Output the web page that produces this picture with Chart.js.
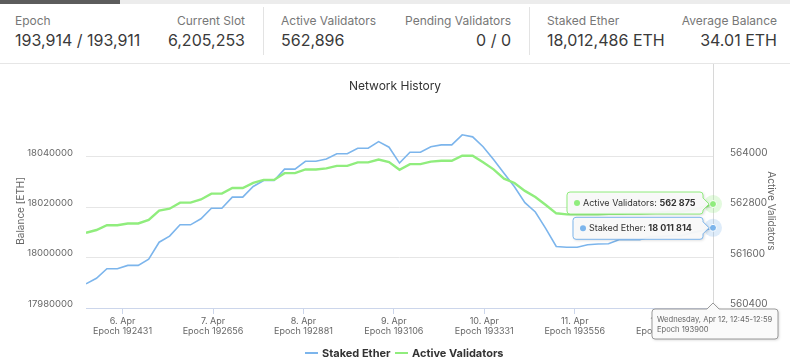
<!DOCTYPE html>
<html><head><meta charset="utf-8">
<script src="https://cdn.jsdelivr.net/npm/chart.js@4"></script>
<style>
html,body{margin:0;padding:0;width:790px;height:358px;overflow:hidden;background:#fff;font-family:Inter,"Noto Sans",sans-serif;}
#topbar{position:absolute;left:0;top:0;width:790px;height:4px;background:#ececec;}
#topbar .dark{position:absolute;left:0;top:0;width:120px;height:4px;background:#5c5c5c;}
.stat{position:absolute;top:13px;white-space:nowrap;}
.stat .lab{font-size:12px;color:#777;line-height:16px;}
.stat .val{font-size:16px;color:#3a3a3a;line-height:22px;}
.r{text-align:right}
.sep{position:absolute;top:7px;width:1px;height:48px;background:#e3e3e3}
#hline{position:absolute;left:0;top:63px;width:790px;height:1px;background:#e6e6e6}
#wrap{position:absolute;left:0;top:64px;width:790px;height:294px;}
#legend{position:absolute;top:345px;left:0;width:790px;font-size:11px;font-weight:700;color:#333;white-space:nowrap}
#legend span.it{position:absolute;top:0;line-height:16px}
#legend i{display:inline-block;width:13px;height:2px;vertical-align:middle;margin-right:4px;position:relative;top:-1px}
</style></head><body>
<div id="topbar"><div class="dark"></div></div>
<div class="stat" style="left:15px"><div class="lab">Epoch</div><div class="val">193,914 / 193,911</div></div>
<div class="stat r" style="right:545px"><div class="lab">Current Slot</div><div class="val">6,205,253</div></div>
<div class="sep" style="left:263px"></div>
<div class="stat" style="left:281px"><div class="lab">Active Validators</div><div class="val">562,896</div></div>
<div class="stat r" style="right:279px"><div class="lab">Pending Validators</div><div class="val">0 / 0</div></div>
<div class="sep" style="left:529px"></div>
<div class="stat" style="left:547px"><div class="lab">Staked Ether</div><div class="val">18,012,486 ETH</div></div>
<div class="stat r" style="right:13px"><div class="lab">Average Balance</div><div class="val">34.01 ETH</div></div>
<div id="hline"></div>
<div id="wrap"><canvas id="c"></canvas></div>
<div id="legend">
  <span class="it" style="left:305px"><i style="background:#7cb5ec"></i>Staked Ether</span>
  <span class="it" style="left:395px"><i style="background:#90ed7d"></i>Active Validators</span>
</div>
<script>
const epochs = [192340,192366,192392,192418,192444,192470,192496,192522,192548,192574,
192600,192626,192652,192678,192704,192730,192756,192782,192808,192834,
192860,192886,192912,192938,192964,192990,193016,193042,193068,193094,
193120,193146,193172,193198,193224,193250,193276,193302,193328,193354,
193380,193406,193432,193458,193484,193510,193536,193562,193588,193614,
193640,193666,193692,193718,193744,193770,193796,193822,193848,193874,193900];
const stakedEther = [17989600,17991800,17995600,17995600,17996900,17996900,17999400,18006100,18008500,18013000,
18013000,18015400,18019600,18019600,18024000,18024000,18028200,18030600,18030600,18035100,
18035100,18038200,18038200,18039100,18041200,18041200,18043400,18043400,18046000,18043800,
18037500,18041800,18041800,18044000,18044700,18044700,18048700,18047900,18044000,18038900,
18033500,18028100,18021800,18018100,18011500,18004400,18004100,18004100,18005100,18005400,
18005500,18007100,18007100,18007100,18008300,18008300,18008700,18008700,18009900,18010700,18011814];
const activeValidators = [562190,562256,562371,562371,562412,562412,562496,562719,562764,562908,
562908,562984,563123,563123,563257,563257,563380,563449,563449,563610,
563610,563698,563698,563725,563784,563784,563866,563866,563933,563875,
563691,563825,563825,563885,563904,563904,564024,564024,563868,563701,
563480,563377,563188,563042,562853,562654,562628,562628,562628,562628,
562640,562640,562647,562651,562663,562675,562687,562699,562735,562795,562875];
const tickEpochs = [192431,192656,192881,193106,193331,193556,193781];
const dayLabels = ['6. Apr','7. Apr','8. Apr','9. Apr','10. Apr','11. Apr','12. Apr'];
const balanceTicks = [17980000,18000000,18020000,18040000];
const validatorTicks = [560400,561600,562800,564000];
const tooltipHeader = 'Wednesday, Apr 12, 12:45-12:59';

const FONT = 'Inter, "Noto Sans", sans-serif';
const fmtSpace = v => String(v).replace(/\B(?=(\d{3})+(?!\d))/g, ' ');

function calloutRight(ctx, x, y, w, h, tipX, tipY, r) {
  const cy = tipY;
  ctx.beginPath();
  ctx.moveTo(x + r, y);
  ctx.lineTo(x + w - r, y);
  ctx.quadraticCurveTo(x + w, y, x + w, y + r);
  ctx.lineTo(x + w, cy - 6);
  ctx.lineTo(tipX, tipY);
  ctx.lineTo(x + w, cy + 6);
  ctx.lineTo(x + w, y + h - r);
  ctx.quadraticCurveTo(x + w, y + h, x + w - r, y + h);
  ctx.lineTo(x + r, y + h);
  ctx.quadraticCurveTo(x, y + h, x, y + h - r);
  ctx.lineTo(x, y + r);
  ctx.quadraticCurveTo(x, y, x + r, y);
  ctx.closePath();
}
function calloutUp(ctx, x, y, w, h, tipX, tipY, r) {
  ctx.beginPath();
  ctx.moveTo(x + r, y);
  ctx.lineTo(tipX - 6, y);
  ctx.lineTo(tipX, tipY);
  ctx.lineTo(tipX + 6, y);
  ctx.lineTo(x + w - r, y);
  ctx.quadraticCurveTo(x + w, y, x + w, y + r);
  ctx.lineTo(x + w, y + h - r);
  ctx.quadraticCurveTo(x + w, y + h, x + w - r, y + h);
  ctx.lineTo(x + r, y + h);
  ctx.quadraticCurveTo(x, y + h, x, y + h - r);
  ctx.lineTo(x, y + r);
  ctx.quadraticCurveTo(x, y, x + r, y);
  ctx.closePath();
}

const hoverPlugin = {
  id: 'hover',
  beforeDatasetsDraw(chart) {
    const ctx = chart.ctx, ca = chart.chartArea;
    const last = epochs.length - 1;
    const px = chart.scales.x.getPixelForValue(epochs[last]);
    ctx.save();
    ctx.strokeStyle = '#d8d8d8';
    ctx.lineWidth = 1;
    ctx.beginPath();
    ctx.moveTo(Math.round(px) + 0.5, 0);
    ctx.lineTo(Math.round(px) + 0.5, ca.bottom);
    ctx.stroke();
    ctx.restore();
  },
  afterDraw(chart) {
    const ctx = chart.ctx, ca = chart.chartArea;
    const last = epochs.length - 1;
    const px = chart.scales.x.getPixelForValue(epochs[last]);
    const pyB = chart.scales.y.getPixelForValue(stakedEther[last]);
    const pyG = chart.scales.y1.getPixelForValue(activeValidators[last]);
    ctx.save();
    [[pyB, 'rgba(124,181,236,0.25)', '#7cb5ec'], [pyG, 'rgba(144,237,125,0.25)', '#90ed7d']].forEach(([py, halo, col]) => {
      ctx.fillStyle = halo;
      ctx.beginPath(); ctx.arc(px, py, 9, 0, Math.PI * 2); ctx.fill();
      ctx.fillStyle = col; ctx.strokeStyle = '#fff'; ctx.lineWidth = 1;
      ctx.beginPath(); ctx.arc(px, py, 3.5, 0, Math.PI * 2); ctx.fill(); ctx.stroke();
    });
    const boxes = [
      {py: pyG, col: '#90ed7d', label: 'Active Validators: ', val: fmtSpace(activeValidators[last]), left: px - 146, top: pyG - 12},
      {py: pyB, col: '#7cb5ec', label: 'Staked Ether: ', val: fmtSpace(stakedEther[last]), left: px - 140, top: pyB - 10.5}
    ];
    boxes.forEach(b => {
      const w = px - 10 - b.left, h = 22;
      ctx.save();
      ctx.shadowColor = 'rgba(0,0,0,0.18)'; ctx.shadowBlur = 3; ctx.shadowOffsetX = 1; ctx.shadowOffsetY = 1;
      calloutRight(ctx, b.left, b.top, w, h, px - 4, b.py, 3);
      ctx.fillStyle = 'rgba(250,250,250,0.95)';
      ctx.fill();
      ctx.restore();
      calloutRight(ctx, b.left, b.top, w, h, px - 4, b.py, 3);
      ctx.strokeStyle = b.col; ctx.lineWidth = 1; ctx.stroke();
      const cy = b.top + h / 2;
      ctx.fillStyle = b.col;
      ctx.beginPath(); ctx.arc(b.left + 10, cy, 3, 0, Math.PI * 2); ctx.fill();
      ctx.textBaseline = 'middle'; ctx.textAlign = 'left';
      ctx.font = '9px ' + FONT; ctx.fillStyle = '#333';
      ctx.fillText(b.label, b.left + 16, cy);
      const lw = ctx.measureText(b.label).width;
      ctx.font = 'bold 9px ' + FONT;
      ctx.fillText(b.val, b.left + 16 + lw, cy);
    });
    const hx = px - 61, hy = ca.bottom + 1, hw = 126, hh = 30;
    ctx.save();
    ctx.shadowColor = 'rgba(0,0,0,0.18)'; ctx.shadowBlur = 3; ctx.shadowOffsetX = 1; ctx.shadowOffsetY = 1;
    calloutUp(ctx, hx, hy, hw, hh, px, ca.bottom - 5, 3);
    ctx.fillStyle = 'rgba(250,250,250,1)';
    ctx.fill();
    ctx.restore();
    calloutUp(ctx, hx, hy, hw, hh, px, ca.bottom - 5, 3);
    ctx.strokeStyle = '#9a9a9a'; ctx.lineWidth = 1; ctx.stroke();
    ctx.font = '7.6px ' + FONT; ctx.fillStyle = '#666'; ctx.textAlign = 'left'; ctx.textBaseline = 'middle';
    ctx.fillText(tooltipHeader, hx + 5, hy + 11);
    ctx.fillText('Epoch ' + epochs[last], hx + 5, hy + 21);
    ctx.restore();
  }
};

new Chart(document.getElementById('c'), {
  type: 'line',
  data: {
    datasets: [
      {label: 'Staked Ether', data: epochs.map((e, i) => ({x: e, y: stakedEther[i]})), yAxisID: 'y',
       borderColor: '#7cb5ec', borderWidth: 1.6, pointRadius: 0, tension: 0, fill: false, order: 1},
      {label: 'Active Validators', data: epochs.map((e, i) => ({x: e, y: activeValidators[i]})), yAxisID: 'y1',
       borderColor: '#90ed7d', borderWidth: 2.4, pointRadius: 0, tension: 0, fill: false, order: 0}
    ]
  },
  options: {
    responsive: true, maintainAspectRatio: false, animation: false,
    layout: {padding: {left: 0, right: 0, top: 0, bottom: 20}},
    plugins: {
      legend: {display: false},
      tooltip: {enabled: false},
      title: {display: true, text: 'Network History', color: '#333',
        font: {family: FONT, size: 12, weight: 'normal'}, padding: {top: 15, bottom: 20.4}}
    },
    scales: {
      x: {type: 'linear', min: epochs[0], max: epochs[epochs.length - 1],
        afterFit: s => { s.height = 30; },
        afterBuildTicks: s => { s.ticks = tickEpochs.map(v => ({value: v})); },
        grid: {display: true, drawOnChartArea: false, drawTicks: true, tickLength: 6, color: '#ccd6eb'},
        border: {display: true, color: '#ccd6eb'},
        ticks: {autoSkip: false, maxRotation: 0, padding: 1.5, color: '#666',
          font: {family: FONT, size: 9, lineHeight: 1.2},
          callback: v => { const i = tickEpochs.indexOf(v); return [dayLabels[i], 'Epoch ' + v]; }}
      },
      y: {position: 'left', min: 17980000, max: 18057046,
        afterFit: s => { s.width = 86; },
        afterBuildTicks: s => { s.ticks = balanceTicks.map(v => ({value: v})); },
        grid: {color: '#e6e6e6', drawTicks: false}, border: {display: false},
        ticks: {padding: 13, labelOffset: -4, color: '#666', font: {family: FONT, size: 9.5}, callback: v => String(v)},
        title: {display: true, text: 'Balance [ETH]', color: '#666', font: {family: FONT, size: 10}, padding: {top: 15}}
      },
      y1: {position: 'right', min: 560400, max: 565023,
        afterFit: s => { s.width = 77; },
        afterBuildTicks: s => { s.ticks = validatorTicks.map(v => ({value: v})); },
        grid: {display: false, drawTicks: false}, border: {display: false},
        ticks: {padding: 17, labelOffset: -4, color: '#666', font: {family: FONT, size: 10}, callback: v => String(v)},
        title: {display: true, text: 'Active Validators', color: '#666', font: {family: FONT, size: 10}, padding: {top: 13}}
      }
    }
  },
  plugins: [hoverPlugin]
});
</script>
</body></html>
